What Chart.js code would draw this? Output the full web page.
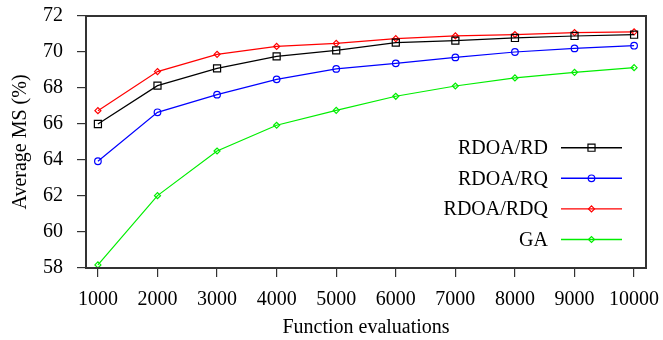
<!DOCTYPE html>
<html>
<head>
<meta charset="utf-8">
<script src="https://cdn.jsdelivr.net/npm/chart.js@4/dist/chart.umd.min.js"></script>
<style>
  html, body { margin: 0; padding: 0; background: #fff; }
  #wrap { width: 663px; height: 340px; position: relative; }
</style>
</head>
<body>
<div id="wrap"><canvas id="c"></canvas></div>
<script>
// ---- data ----
const evaluations = [1000, 2000, 3000, 4000, 5000, 6000, 7000, 8000, 9000, 10000];
const rdoaRD  = [66.0, 68.13, 69.09, 69.76, 70.09, 70.52, 70.63, 70.78, 70.89, 70.96];
const rdoaRQ  = [63.93, 66.65, 67.63, 68.48, 69.06, 69.37, 69.70, 70.0, 70.2, 70.35];
const rdoaRDQ = [66.74, 68.91, 69.87, 70.31, 70.48, 70.74, 70.9, 70.97, 71.08, 71.12];
const gaVals  = [58.17, 62.02, 64.5, 65.93, 66.76, 67.54, 68.11, 68.56, 68.87, 69.13];
const yTicks  = [58, 60, 62, 64, 66, 68, 70, 72];
const seriesNames = ['RDOA/RD', 'RDOA/RQ', 'RDOA/RDQ', 'GA'];

const FONT = "'Liberation Serif', 'Times New Roman', serif";
const AXIS = '#333333';

function pts(vals) { return evaluations.map((x, i) => ({ x: x, y: vals[i] })); }

function mk(label, vals, color, style, r) {
  return {
    label: label, data: pts(vals), borderColor: color, borderWidth: 1.2,
    pointStyle: style, pointRadius: r, pointHoverRadius: r,
    pointBorderColor: color, pointBorderWidth: 1.2,
    pointBackgroundColor: 'rgba(0,0,0,0)', fill: false, tension: 0
  };
}

function marker(ctx, style, x, y, r) {
  ctx.beginPath();
  if (style === 'rect') {
    const s = Math.SQRT1_2 * r;
    ctx.rect(x - s, y - s, 2 * s, 2 * s);
  } else if (style === 'circle') {
    ctx.arc(x, y, r, 0, Math.PI * 2);
  } else {
    ctx.moveTo(x - r, y); ctx.lineTo(x, y - r); ctx.lineTo(x + r, y); ctx.lineTo(x, y + r); ctx.closePath();
  }
  ctx.stroke();
}

const framePlugin = {
  id: 'frame',
  afterDatasetsDraw(chart) {
    const { ctx, chartArea: a } = chart;
    ctx.save();
    ctx.strokeStyle = AXIS; ctx.lineWidth = 2;
    ctx.strokeRect(a.left, a.top, a.right - a.left, a.bottom - a.top);
    ctx.restore();
  }
};

const legendPlugin = {
  id: 'inLegend',
  afterDatasetsDraw(chart) {
    const { ctx, chartArea: a } = chart;
    ctx.save();
    ctx.font = '20px ' + FONT;
    ctx.textAlign = 'right'; ctx.textBaseline = 'middle';
    chart.data.datasets.forEach((ds, i) => {
      const y = a.top + 131.7 + i * 30.6;
      ctx.fillStyle = '#000';
      ctx.fillText(ds.label, a.right - 98, y + 1);
      ctx.strokeStyle = ds.borderColor; ctx.lineWidth = 1.4;
      ctx.beginPath(); ctx.moveTo(a.right - 85, y); ctx.lineTo(a.right - 24, y); ctx.stroke();
      ctx.lineWidth = 1.2;
      marker(ctx, ds.pointStyle, a.right - 54.5, y, ds.pointRadius);
    });
    ctx.restore();
  }
};

new Chart(document.getElementById('c'), {
  type: 'line',
  data: {
    datasets: [
      mk(seriesNames[0], rdoaRD, '#000000', 'rect', 5),
      mk(seriesNames[1], rdoaRQ, '#0000ff', 'circle', 3.3),
      mk(seriesNames[2], rdoaRDQ, '#ff0000', 'rectRot', 3),
      mk(seriesNames[3], gaVals, '#00ee00', 'rectRot', 3)
    ]
  },
  options: {
    responsive: true, maintainAspectRatio: false, animation: false,
    layout: { padding: { top: 16, right: 17, left: 0, bottom: 0 } },
    plugins: { legend: { display: false }, tooltip: { enabled: false } },
    scales: {
      x: {
        type: 'linear', min: 800, max: 10200,
        afterBuildTicks: (s) => { s.ticks = evaluations.map(v => ({ value: v })); },
        afterFit: (s) => { s.height = 72; s.paddingLeft = 0; s.paddingRight = 0; },
        border: { display: false },
        grid: { drawOnChartArea: false, tickLength: 9, color: AXIS, lineWidth: 1.2 },
        ticks: { color: '#000', font: { family: FONT, size: 20 }, padding: 11, maxRotation: 0, autoSkip: false,
                 callback: (v) => String(v) },
        title: { display: true, text: 'Function evaluations', color: '#000',
                 font: { family: FONT, size: 20 }, padding: { top: 0, bottom: 0 } }
      },
      y: {
        min: 58, max: 72,
        afterBuildTicks: (s) => { s.ticks = yTicks.map(v => ({ value: v })); },
        afterFit: (s) => { s.width = 86; s.paddingTop = 0; s.paddingBottom = 0; },
        border: { display: false },
        grid: { drawOnChartArea: false, tickLength: 9, color: AXIS, lineWidth: 1.2 },
        ticks: { color: '#000', font: { family: FONT, size: 20 }, padding: 14 },
        title: { display: true, text: 'Average MS (%)', color: '#000',
                 font: { family: FONT, size: 20 }, padding: { top: 9, bottom: 0 } }
      }
    }
  },
  plugins: [framePlugin, legendPlugin]
});
</script>
</body>
</html>
